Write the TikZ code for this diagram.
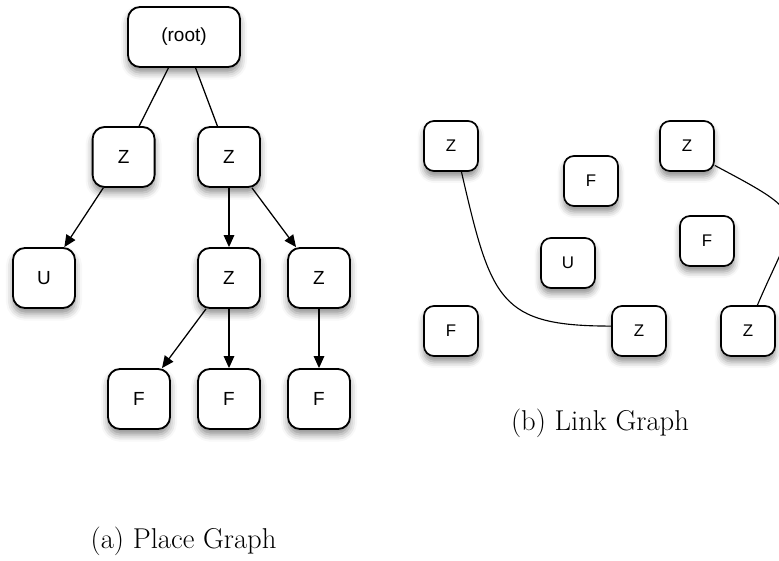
\documentclass[tikz,border=0pt]{standalone}
\usepackage{fontspec}
\newfontfamily\boxfont{Liberation Sans}
\usetikzlibrary{arrows.meta,shadows.blur}

\begin{document}
\begin{tikzpicture}
		\clip (0, 0) rectangle (19.475, 14.025);
		\tikzstyle{arr} = [-{Triangle[length=8.5pt,width=7.5pt]}]
		\tikzstyle{every path} = [line width=0.9pt]
		\tikzstyle{every node} = [rectangle, rounded corners=0.3cm, draw, line width=1.3pt, fill=white, minimum width=1.55cm, minimum height=1.5cm, font=\boxfont\fontsize{13.5}{15}\selectfont, blur shadow={shadow xshift=0pt, shadow yshift=-4pt, shadow blur radius=5pt, shadow opacity=45}]
		% place graph
		\node (root) at (4.6, 13.1) [minimum width=2.8cm] {(root)};
		\node (z1) at (3.09, 10.1) {Z};
		\node (z2) at (5.725, 10.1) {Z};
		\node (u) at (1.1, 7.075) {U};
		\node (z3) at (5.725, 7.075) {Z};
		\node (z4) at (7.975, 7.075) {Z};
		\node (f1) at (3.475, 4.05) {F};
		\node (f2) at (5.725, 4.05) {F};
		\node (f3) at (7.975, 4.05) {F};

		\draw [-] (root) -- (z1);
		\draw [-] (root) -- (z2);
		\draw [arr] (z1) -- (u);
		\draw [arr] (z2) -- (z3);
		\draw [arr] (z2) -- (z4);
		\draw [arr] (z3) -- (f1);
		\draw [arr] (z3) -- (f2);
		\draw [arr] (z4) -- (f3);

		% link graph
		\tikzstyle{every node} = [rectangle, rounded corners=0.25cm, draw, line width=1.2pt, fill=white, minimum width=1.35cm, minimum height=1.25cm, font=\boxfont\fontsize{12}{13}\selectfont, blur shadow={shadow xshift=0pt, shadow yshift=-4pt, shadow blur radius=4.5pt, shadow opacity=45}]
		\node (lz1) at (11.275, 10.375) {Z};
		\node (lf1) at (14.775, 9.5) {F};
		\node (lz2) at (17.175, 10.375) {Z};
		\node (lf2) at (17.675, 8.0) {F};
		\node (lu) at (14.2, 7.45) {U};
		\node (lf3) at (11.275, 5.75) {F};
		\node (lz3) at (15.975, 5.75) {Z};
		\node (lz4) at (18.7, 5.75) {Z};

		\draw [-, line width=0.8pt] (lz1.-68) .. controls +(-77:3.3) and +(-2.8,0) .. (lz3.170);
		\draw [-, line width=0.8pt] (lz2.-35) .. controls +(2.5,-1.325) and +(1.0,2.35) .. (lz4.70);

		% captions
		\tikzstyle{every node} = [draw=none, fill=none, font=\fontsize{20.4}{24}\selectfont]
		\node (capa) at (4.59, 0.49) {(a) Place Graph};
		\node (capb) at (15.0, 3.45) {(b) Link Graph};
\end{tikzpicture}
\end{document}
